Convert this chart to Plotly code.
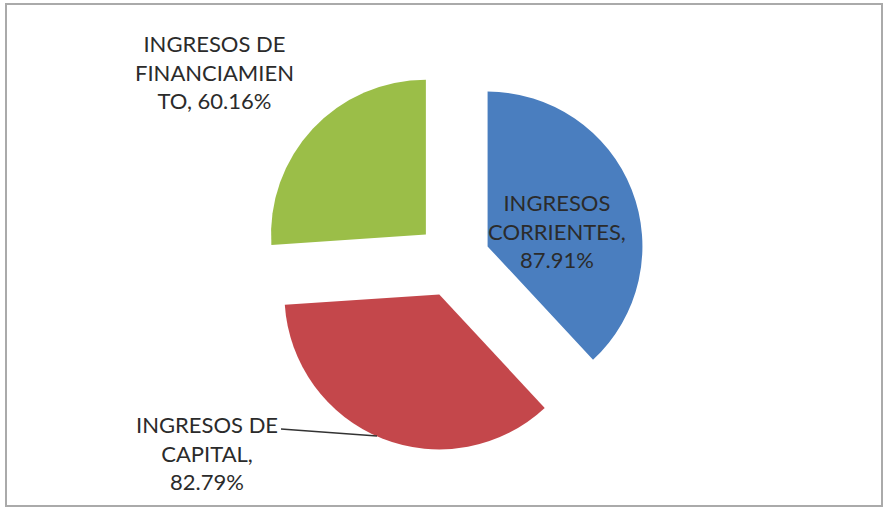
import plotly.graph_objects as go

W, H = 885, 513

# Data
categories = ["INGRESOS CORRIENTES", "INGRESOS DE CAPITAL", "INGRESOS DE FINANCIAMIENTO"]
label_lines = [
    ["INGRESOS", "CORRIENTES,"],
    ["INGRESOS DE", "CAPITAL,"],
    ["INGRESOS DE", "FINANCIAMIEN", "TO,"],
]
percentages = [87.91, 82.79, 60.16]
colors = ["#4A7EBF", "#C4474B", "#9BBE48"]

def px(x):
    return x / W

def py(y):
    return 1 - y / H

# pie box (pixels): centre and half size
cx, cy, half = 453, 260, 192

fig = go.Figure(go.Pie(
    labels=categories,
    values=percentages,
    sort=False,
    direction="clockwise",
    rotation=0,
    pull=[0.24] * len(percentages),
    marker=dict(colors=colors, line=dict(width=0)),
    textinfo="none",
    hoverinfo="label+value",
    showlegend=False,
    domain=dict(x=[px(cx - half), px(cx + half)], y=[py(cy + half), py(cy - half)]),
))

# label positions (pixel centres)
label_pos = [(557, 231), (207, 453), (214, 72)]
annotations = []
for lines, val, (lx, ly) in zip(label_lines, percentages, label_pos):
    pct = f"{val:.2f}%"
    if lines[-1].endswith(",") and len(lines) == 2:
        all_lines = lines + [pct]
    else:
        all_lines = lines[:-1] + [lines[-1] + " " + pct]
    annotations.append(dict(
        text="<br>".join(all_lines), x=px(lx), y=py(ly), xref="paper", yref="paper",
        xanchor="center", yanchor="middle", showarrow=False, align="center",
        font=dict(family="Lato, Calibri, sans-serif", size=22, color="#2b2b2b"),
    ))

shapes = [
    # leader line for capital label
    dict(type="line", xref="paper", yref="paper",
         x0=px(281), y0=py(429), x1=px(377), y1=py(436),
         line=dict(color="#333333", width=1.5)),
    # chart frame
    dict(type="rect", xref="paper", yref="paper",
         x0=px(6), y0=py(506), x1=px(882), y1=py(4),
         line=dict(color="#aaaaaa", width=2)),
]

fig.update_layout(
    width=W, height=H,
    margin=dict(l=0, r=0, t=0, b=0),
    paper_bgcolor="white",
    plot_bgcolor="white",
    annotations=annotations,
    shapes=shapes,
)

fig.write_html(
    "out.html",
    config={"displayModeBar": False},
    post_script="document.body.style.margin='0';document.body.style.overflow='hidden';",
)
